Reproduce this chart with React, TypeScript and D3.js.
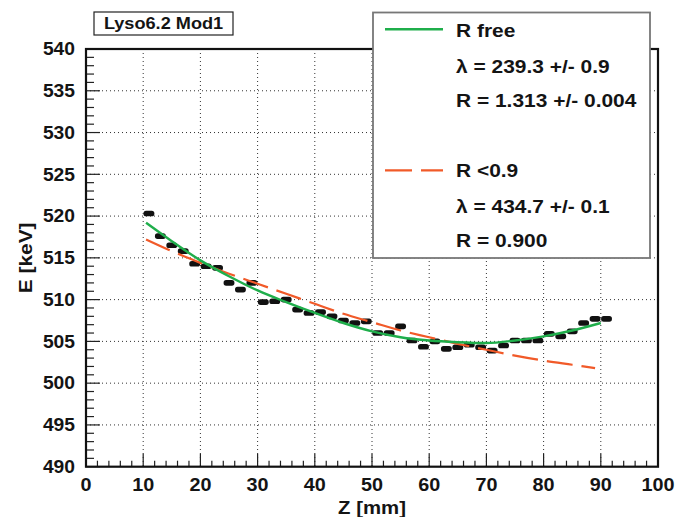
import React from "react";
import * as d3 from "d3";

const zValues = [11, 13, 15, 17, 19, 21, 23, 25, 27, 29, 31, 33, 35, 37, 39, 41, 43, 45, 47, 49, 51, 53, 55, 57, 59, 61, 63, 65, 67, 69, 71, 73, 75, 77, 79, 81, 83, 85, 87, 89, 91];
const eValues = [520.3, 517.6, 516.5, 515.8, 514.3, 514.0, 513.8, 512.0, 511.2, 512.0, 509.7, 509.8, 510.0, 508.8, 508.4, 508.5, 508.0, 507.5, 507.2, 507.4, 506.0, 506.0, 506.8, 505.1, 504.35, 505.0, 504.1, 504.3, 504.6, 504.3, 503.9, 504.5, 505.1, 505.1, 505.1, 505.9, 505.6, 506.2, 507.2, 507.7, 507.7];
const zErr = 0.95;

const freeFitZ = [10.5, 15, 20, 25, 30, 35, 40, 45, 50, 55, 60, 65, 70, 75, 80, 85, 90];
const freeFitE = [519.2, 517.0, 514.7, 512.8, 511.1, 509.7, 508.4, 507.2, 506.2, 505.5, 505.1, 504.9, 504.8, 505.1, 505.6, 506.3, 507.2];
const fixedFitZ = [10.5, 15, 20, 25, 30, 35, 40, 45, 50, 55, 60, 65, 70, 75, 80, 85, 89];
const fixedFitE = [517.2, 515.8, 514.4, 513.1, 511.9, 510.7, 509.5, 508.3, 507.3, 506.3, 505.5, 504.7, 504.0, 503.3, 502.7, 502.2, 501.8];

const xTicks = [0, 10, 20, 30, 40, 50, 60, 70, 80, 90, 100];
const yTicks = [490, 495, 500, 505, 510, 515, 520, 525, 530, 535, 540];

const titleText = "Lyso6.2 Mod1";
const legendRows = [
  { kind: "free", text: "R free" },
  { kind: "none", text: "\u03bb = 239.3 +/- 0.9" },
  { kind: "none", text: "R = 1.313 +/- 0.004" },
  { kind: "fixed", text: "R <0.9" },
  { kind: "none", text: "\u03bb = 434.7 +/- 0.1" },
  { kind: "none", text: "R = 0.900" },
];
const legendBaselines = [37.3, 73.3, 107.3, 177.3, 213.3, 247.3];

const GREEN = "#1fae4b";
const ORANGE = "#f15a29";
const FONT = "'Liberation Sans', Arial, Helvetica, sans-serif";

function T(props: { x: number; y: number; anchor?: string; size: number; sx?: number; rotate?: boolean; children: any }) {
  const { x, y, anchor = "start", size, sx = 1.1, rotate, children } = props;
  return (
    <text
      transform={`translate(${x},${y})${rotate ? " rotate(-90)" : ""} scale(${sx},1)`}
      textAnchor={anchor}
      fontFamily={FONT}
      fontWeight="bold"
      fontSize={size}
      fill="#141414"
    >
      {children}
    </text>
  );
}

export default function App() {
  const W = 676, H = 517;
  const x0 = 86, x1 = 658, y0 = 49, y1 = 466.7;
  const x = d3.scaleLinear().domain([0, 100]).range([x0, x1]);
  const y = d3.scaleLinear().domain([490, 540]).range([y1, y0]);

  const line = d3
    .line<[number, number]>()
    .x((d) => x(d[0]))
    .y((d) => y(d[1]))
    .curve(d3.curveMonotoneX);

  const freePts = freeFitZ.map((z, i) => [z, freeFitE[i]] as [number, number]);
  const fixedPts = fixedFitZ.map((z, i) => [z, fixedFitE[i]] as [number, number]);

  const yMinor = d3.range(490, 541, 1);
  const xMinor = d3.range(0, 101, 2);

  return (
    <svg width={W} height={H} style={{ position: "absolute", left: 0, top: 0, background: "#fff" }}>
      <rect x={0} y={0} width={W} height={H} fill="#fff" />
      {/* grid */}
      {xTicks.slice(1, -1).map((t) => (
        <line key={"gx" + t} x1={x(t)} x2={x(t)} y1={y0} y2={y1} stroke="#333" strokeWidth={1} strokeDasharray="1,3" />
      ))}
      {yTicks.slice(1, -1).map((t) => (
        <line key={"gy" + t} x1={x0} x2={x1} y1={y(t)} y2={y(t)} stroke="#333" strokeWidth={1} strokeDasharray="1,3" />
      ))}
      {/* ticks */}
      {yMinor.map((t) => (
        <line key={"ty" + t} x1={x0} x2={x0 + (t % 5 === 0 ? 14 : 8)} y1={y(t)} y2={y(t)} stroke="#222" strokeWidth={1.2} />
      ))}
      {xMinor.map((t) => (
        <line key={"tx" + t} x1={x(t)} x2={x(t)} y1={y1} y2={y1 - (t % 10 === 0 ? 13 : 6)} stroke="#222" strokeWidth={1.2} />
      ))}
      {/* frame */}
      <rect x={x0} y={y0} width={x1 - x0} height={y1 - y0} fill="none" stroke="#111" strokeWidth={2.2} />

      {/* markers */}
      {zValues.map((z, i) => (
        <rect
          key={"m" + i}
          x={x(z - zErr)}
          y={y(eValues[i]) - 2.8}
          width={x(z + zErr) - x(z - zErr)}
          height={5.6}
          rx={2.6}
          fill="#111"
        />
      ))}

      {/* fits */}
      <path d={line(fixedPts) || ""} fill="none" stroke={ORANGE} strokeWidth={2.2} strokeDasharray="26,9" />
      <path d={line(freePts) || ""} fill="none" stroke={GREEN} strokeWidth={2.4} />

      {/* tick labels */}
      {yTicks.map((t) => (
        <T key={"ly" + t} x={75} y={y(t) + 6.3} anchor="end" size={17.5}>
          {t}
        </T>
      ))}
      {xTicks.map((t) => (
        <T key={"lx" + t} x={x(t)} y={490.7} anchor="middle" size={18}>
          {t}
        </T>
      ))}
      <T x={(x0 + x1) / 2} y={513.5} anchor="middle" size={18.5}>
        Z [mm]
      </T>
      <T x={31.7} y={(y0 + y1) / 2} anchor="middle" size={19} rotate>
        E [keV]
      </T>

      {/* title box */}
      <rect x={94} y={12} width={139} height={23} fill="#fff" stroke="#222" strokeWidth={1.2} />
      <T x={163.5} y={28.5} anchor="middle" size={16.5}>
        {titleText}
      </T>

      {/* legend */}
      <rect x={373} y={12.5} width={277} height={245.5} fill="#fff" stroke="#777" strokeWidth={1.8} />
      {legendRows.map((r, i) => (
        <g key={"lg" + i}>
          {r.kind === "free" && (
            <line x1={385} x2={443} y1={legendBaselines[i] - 8} y2={legendBaselines[i] - 8} stroke={GREEN} strokeWidth={2.4} />
          )}
          {r.kind === "fixed" && (
            <line x1={385} x2={443} y1={legendBaselines[i] - 7} y2={legendBaselines[i] - 7} stroke={ORANGE} strokeWidth={2.2} strokeDasharray="27,9" />
          )}
          <T x={456} y={legendBaselines[i]} size={18.7} sx={1.12}>
            {r.text}
          </T>
        </g>
      ))}
    </svg>
  );
}
